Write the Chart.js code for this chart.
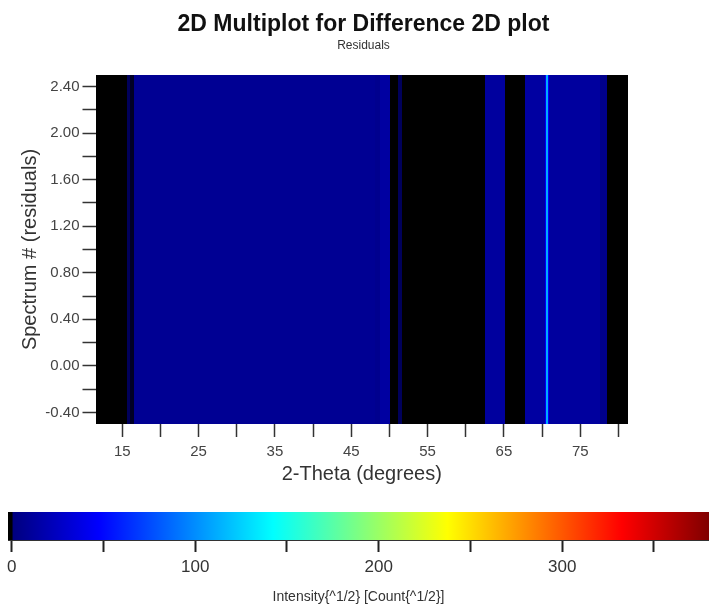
<!DOCTYPE html>
<html>
<head>
<meta charset="utf-8">
<script src="https://cdn.jsdelivr.net/npm/chart.js@4.4.0/dist/chart.umd.min.js"></script>
<style>
  html, body { margin: 0; padding: 0; background: #ffffff; }
  #wrap { position: relative; width: 709px; height: 609px; }
  #mainBox { position: absolute; left: 0; top: 0; width: 709px; height: 495px; }
  #barBox { position: absolute; left: 0; top: 495px; width: 709px; height: 114px; }
</style>
</head>
<body>
<div id="wrap">
  <div id="mainBox"><canvas id="heatChart"></canvas></div>
  <div id="barBox"><canvas id="scaleChart"></canvas></div>
</div>
<script>
// spectra (rows) and the 2-theta bands
var spectra = [0, 1, 2];
var bandEdges = [11.5, 15.6, 16.0, 16.5, 48.1, 48.75, 50.05, 51.1, 51.6, 62.5, 65.1, 67.7, 70.35, 70.5, 70.8, 70.95, 77.6, 78.5, 81.25];
var intensity = [0, 0.7, 0.3, 8, 6, 13, 0, 0.7, 0, 12, 0, 13, 45, 112, 45, 12, 5, 0];

var xTicks = [15, 20, 25, 30, 35, 40, 45, 50, 55, 60, 65, 70, 75, 80];
var xLabels = [15, 25, 35, 45, 55, 65, 75];
var yTicks = [-0.4, -0.2, 0, 0.2, 0.4, 0.6, 0.8, 1.0, 1.2, 1.4, 1.6, 1.8, 2.0, 2.2, 2.4];
var yLabels = [-0.4, 0, 0.4, 0.8, 1.2, 1.6, 2.0, 2.4];

// colour scale (jet with a black floor)
var colorStops = [0, 1, 47.5, 142.5, 237.5, 332.5, 380];
var colorValues = [[0, 0, 0], [0, 0, 128], [0, 0, 255], [0, 255, 255], [255, 255, 0], [255, 0, 0], [128, 0, 0]];
var colorTicks = [0, 50, 100, 150, 200, 250, 300, 350];
var colorLabels = [0, 100, 200, 300];
var barMin = -2;
var barMax = 380;

var FONT = '"Liberation Sans", Arial, Helvetica, sans-serif';

function colorFor(v) {
    if (v <= colorStops[0]) return rgb(colorValues[0]);
    for (var i = 1; i < colorStops.length; i++) {
        if (v <= colorStops[i]) {
            var t = (v - colorStops[i - 1]) / (colorStops[i] - colorStops[i - 1]);
            var a = colorValues[i - 1], b = colorValues[i];
            return rgb([a[0] + (b[0] - a[0]) * t, a[1] + (b[1] - a[1]) * t, a[2] + (b[2] - a[2]) * t]);
        }
    }
    return rgb(colorValues[colorValues.length - 1]);
}

function rgb(c) {
    return 'rgb(' + Math.round(c[0]) + ',' + Math.round(c[1]) + ',' + Math.round(c[2]) + ')';
}

var heatmapPlugin = {
    id: 'heatmap',
    beforeDatasetsDraw: function(chart) {
        var ctx = chart.ctx;
        var xs = chart.scales.x;
        var ys = chart.scales.y;
        var area = chart.chartArea;
        ctx.save();
        ctx.beginPath();
        ctx.rect(area.left, area.top, area.right - area.left, area.bottom - area.top);
        ctx.clip();
        spectra.forEach(function(row) {
            // whole pixels so neighbouring cells meet without seams
            var top = Math.round(ys.getPixelForValue(row + 0.5));
            var bottom = Math.round(ys.getPixelForValue(row - 0.5));
            for (var i = 0; i < intensity.length; i++) {
                var left = Math.round(xs.getPixelForValue(bandEdges[i]));
                var right = Math.round(xs.getPixelForValue(bandEdges[i + 1]));
                ctx.fillStyle = colorFor(intensity[i]);
                ctx.fillRect(left, top, right - left, bottom - top);
            }
        });
        ctx.restore();
    }
};

var colorbarPlugin = {
    id: 'colorbar',
    beforeDraw: function(chart) {
        var ctx = chart.ctx;
        var xs = chart.scales.x;
        var area = chart.chartArea;
        var x0 = xs.getPixelForValue(barMin);
        var x1 = xs.getPixelForValue(barMax);
        var grad = ctx.createLinearGradient(x0, 0, x1, 0);
        grad.addColorStop(0, rgb(colorValues[0]));
        colorStops.forEach(function(v, i) {
            grad.addColorStop((v - barMin) / (barMax - barMin), rgb(colorValues[i]));
        });
        ctx.save();
        ctx.fillStyle = grad;
        ctx.fillRect(x0, area.top, x1 - x0, area.bottom - area.top);
        ctx.restore();
    }
};

function setTicks(list) {
    return function(scale) {
        scale.ticks = list.map(function(v) { return { value: v }; });
    };
}

new Chart(document.getElementById('heatChart').getContext('2d'), {
    type: 'scatter',
    data: { datasets: [{ data: [] }] },
    options: {
        responsive: true,
        maintainAspectRatio: false,
        animation: false,
        events: [],
        layout: { padding: { top: 11, left: 18, right: 0, bottom: 0 } },
        plugins: {
            legend: { display: false },
            tooltip: { enabled: false },
            title: {
                display: true,
                text: '2D Multiplot for Difference 2D plot',
                color: '#111111',
                font: { family: FONT, size: 23, weight: 'bold' },
                padding: { top: 0, bottom: 0 }
            },
            subtitle: {
                display: true,
                text: 'Residuals',
                color: '#333333',
                font: { family: FONT, size: 12 },
                padding: { top: 0, bottom: 22 }
            }
        },
        scales: {
            x: {
                type: 'linear',
                min: bandEdges[0],
                max: bandEdges[bandEdges.length - 1],
                afterBuildTicks: setTicks(xTicks),
                afterFit: function(s) { s.height = 71; },
                ticks: {
                    autoSkip: false,
                    maxRotation: 0,
                    padding: 6,
                    color: '#444444',
                    font: { family: FONT, size: 15 },
                    callback: function(value) {
                        return xLabels.indexOf(value) >= 0 ? String(value) : '';
                    }
                },
                grid: { drawOnChartArea: false, tickLength: 13, tickColor: '#333333', tickWidth: 1.5 },
                border: { display: false },
                title: {
                    display: true,
                    text: '2-Theta (degrees)',
                    color: '#333333',
                    font: { family: FONT, size: 20 },
                    padding: { top: 0, bottom: 9 }
                }
            },
            y: {
                type: 'linear',
                min: -0.5,
                max: 2.5,
                afterBuildTicks: setTicks(yTicks),
                afterFit: function(s) { s.width = 77.5; },
                ticks: {
                    autoSkip: false,
                    padding: 3,
                    color: '#444444',
                    font: { family: FONT, size: 15 },
                    callback: function(value) {
                        return yLabels.indexOf(value) >= 0 ? value.toFixed(2) : '';
                    }
                },
                grid: { drawOnChartArea: false, tickLength: 13, tickColor: '#333333', tickWidth: 1.5 },
                border: { display: false },
                title: {
                    display: true,
                    text: 'Spectrum # (residuals)',
                    color: '#333333',
                    font: { family: FONT, size: 20 },
                    padding: { top: 0, bottom: 0 }
                }
            },
            y2: {
                position: 'right',
                display: true,
                grid: { display: false },
                border: { display: false },
                ticks: { display: false },
                afterFit: function(s) { s.width = 81; }
            }
        }
    },
    plugins: [heatmapPlugin]
});

new Chart(document.getElementById('scaleChart').getContext('2d'), {
    type: 'scatter',
    data: { datasets: [{ data: [] }] },
    options: {
        responsive: true,
        maintainAspectRatio: false,
        animation: false,
        events: [],
        layout: { padding: { top: 17, left: 8, right: 0, bottom: 0 } },
        plugins: {
            legend: { display: false },
            tooltip: { enabled: false }
        },
        scales: {
            x: {
                type: 'linear',
                min: barMin,
                max: barMax,
                afterBuildTicks: setTicks(colorTicks),
                afterFit: function(s) { s.height = 69; },
                ticks: {
                    autoSkip: false,
                    maxRotation: 0,
                    padding: 5,
                    color: '#333333',
                    font: { family: FONT, size: 17 },
                    callback: function(value) {
                        return colorLabels.indexOf(value) >= 0 ? String(value) : '';
                    }
                },
                grid: { drawOnChartArea: false, tickLength: 12, tickColor: '#222222', tickWidth: 2 },
                border: { display: true, color: '#333333', width: 1 },
                title: {
                    display: true,
                    text: 'Intensity{^1/2} [Count{^1/2}]',
                    color: '#333333',
                    font: { family: FONT, size: 14 },
                    padding: { top: 0, bottom: 3 }
                }
            },
            y: { display: false, min: 0, max: 1 }
        }
    },
    plugins: [colorbarPlugin]
});
</script>
</body>
</html>
